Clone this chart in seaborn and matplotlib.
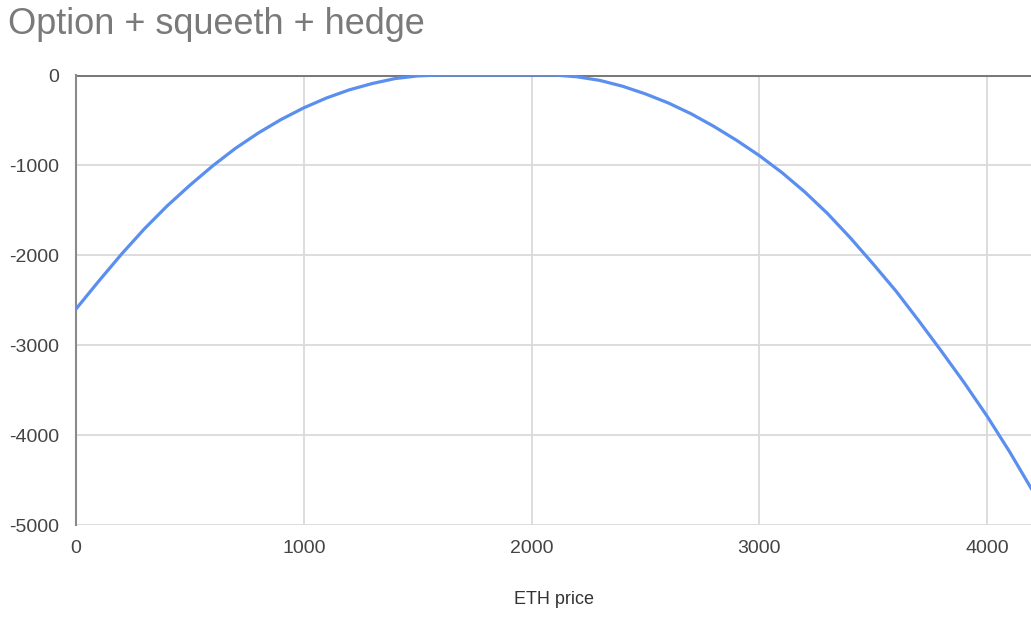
import pandas as pd
import matplotlib
matplotlib.use("Agg")
import matplotlib.pyplot as plt
import seaborn as sns

# values, every 100 on the price axis
eth_price = [0, 100, 200, 300, 400, 500, 600, 700, 800, 900, 1000,
             1100, 1200, 1300, 1400, 1500, 1600, 1700, 1800, 1900, 2000,
             2100, 2200, 2300, 2400, 2500, 2600, 2700, 2800, 2900, 3000,
             3100, 3200, 3300, 3400, 3500, 3600, 3700, 3800, 3900, 4000,
             4100, 4200]
pnl = [-2600, -2290, -1990, -1710, -1455, -1225, -1010, -815, -645, -495, -365,
       -255, -165, -95, -40, -10, 0, 0, 0, 0, 0,
       0, -20, -60, -125, -210, -310, -430, -570, -725, -895,
       -1085, -1300, -1540, -1810, -2100, -2400, -2730, -3070, -3420, -3790,
       -4190, -4620]

x_ticks = [0, 1000, 2000, 3000, 4000]
y_ticks = [0, -1000, -2000, -3000, -4000, -5000]

title = "Option + squeeth + hedge"
x_label = "ETH price"

sns.set_style("white")
plt.rcParams["font.family"] = ["Liberation Sans", "DejaVu Sans"]

df = pd.DataFrame({"ETH price": eth_price, "PnL": pnl})

fig = plt.figure(figsize=(10.31, 6.23), dpi=100)
ax = fig.add_axes([76 / 1031, 1 - 525 / 623, 1 - 76 / 1031, (525 - 75) / 623])

sns.lineplot(data=df, x="ETH price", y="PnL", ax=ax, color="#5a8ff0",
             linewidth=2.3, zorder=3)

ax.set_xlim(0, 4193)
ax.set_ylim(-5000, 0)
ax.set_xticks(x_ticks)
ax.set_yticks(y_ticks)
ax.set_xticklabels([str(t) for t in x_ticks])
ax.set_yticklabels([str(t) for t in y_ticks])
ax.tick_params(axis="both", length=0, labelsize=14, labelcolor="#444444")
ax.tick_params(axis="y", pad=12)
ax.tick_params(axis="x", pad=11)

ax.grid(True, color="#dadada", linewidth=1.3, zorder=0)
ax.axhline(0, color="#7a7a7a", linewidth=2.2, zorder=2)

for side in ["top", "right", "bottom"]:
    ax.spines[side].set_visible(False)
ax.spines["left"].set_color("#8a8a8a")
ax.spines["left"].set_linewidth(1.5)

ax.set_ylabel("")
ax.set_xlabel(x_label, fontsize=13, color="#333333", labelpad=24)

fig.text(8 / 1031, 1 - 24 / 623, title, fontsize=26, color="#7a7a7a",
         ha="left", va="center")

fig.savefig("out.png", dpi=100)
plt.close()
